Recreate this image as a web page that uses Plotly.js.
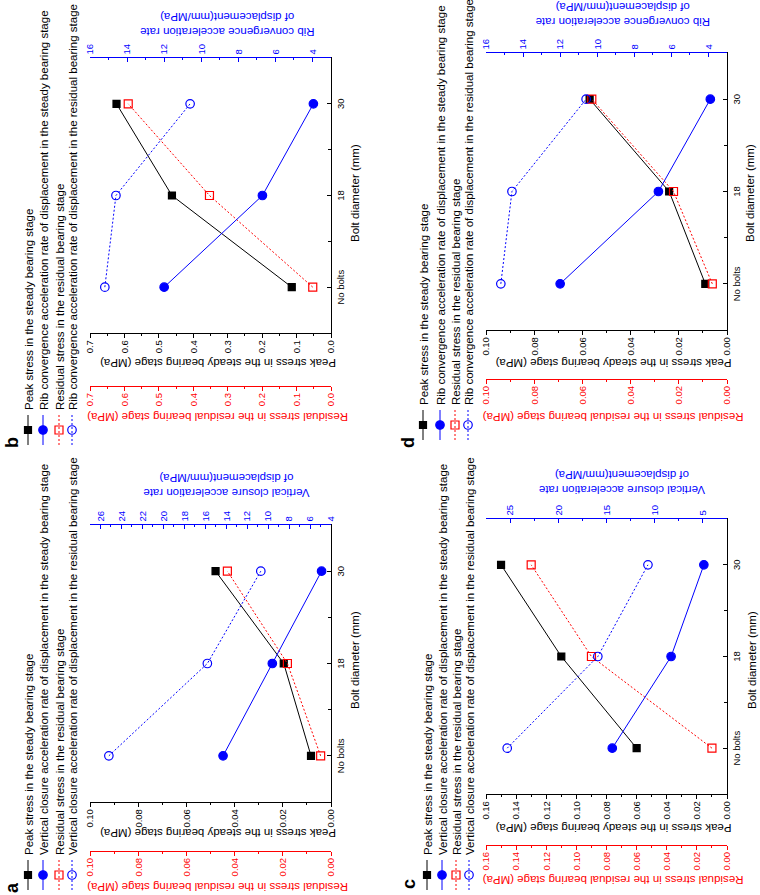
<!DOCTYPE html>
<html>
<head>
<meta charset="utf-8">
<script src="https://cdn.plot.ly/plotly-3.0.1.min.js"></script>
<style>
html, body { margin: 0; padding: 0; overflow: hidden; background: #fff; }
body { width: 760px; height: 895px; position: relative; }
/* the figure is drawn upright (895 x 760) and turned a quarter turn to the left */
#plotArea { position: absolute; left: 0; top: 0; width: 895px; height: 760px;
  transform-origin: 0 0; transform: translateY(895px) rotate(-90deg); }
</style>
</head>
<body>
<div id="plotArea"></div>
<script>
var categories = ["No bolts", "18", "30"];

// a - vertical closure
var peakA = [0.0083, 0.0196, 0.0479];
var residualA = [0.0043, 0.0181, 0.0430];
var rateSteadyA = [14.3, 9.6, 4.9];
var rateResidualA = [25.2, 15.8, 10.7];

// b - rib convergence
var peakB = [0.114, 0.462, 0.623];
var residualB = [0.053, 0.353, 0.589];
var rateSteadyB = [12.0, 6.7, 3.95];
var rateResidualB = [15.2, 14.6, 10.6];

// c - vertical closure
var peakC = [0.060, 0.110, 0.150];
var residualC = [0.010, 0.090, 0.130];
var rateSteadyC = [14.4, 8.3, 4.9];
var rateResidualC = [25.3, 15.9, 10.7];

// d - rib convergence
var peakD = [0.009, 0.024, 0.057];
var residualD = [0.0061, 0.0222, 0.0561];
var rateSteadyD = [12.0, 6.7, 3.9];
var rateResidualD = [15.2, 14.6, 10.6];

var closureNames = [
    "Peak stress in the steady bearing stage",
    "Vertical closure acceleration rate of displacement in the steady bearing stage",
    "Residual stress in the residual bearing stage",
    "Vertical closure acceleration rate of displacement in the residual bearing stage"
];
var ribNames = [
    "Peak stress in the steady bearing stage",
    "Rib convergence acceleration rate of displacement in the steady bearing stage",
    "Residual stress in the residual bearing stage",
    "Rib convergence acceleration rate of displacement in the residual bearing stage"
];
var closureTitle = "Vertical closure acceleration rate<br>of displacement(mm/MPa)";
var ribTitle = "Rib convergence acceleration rate<br>of displacement(mm/MPa)";
var peakTitle = "Peak stress in the steady bearing stage (MPa)";
var residualTitle = "Residual stress in the residual bearing stage (MPa)";
var xTitle = "Bolt diameter (mm)";

var FONT = 'Arial, "Liberation Sans", sans-serif';
var W = 895, H = 760;
function fx(X) { return X / W; }
function fy(Y) { return 1 - Y / H; }

// panel placement in px of the upright figure
var panels = [
    {label: "a", peak: peakA, residual: residualA, steady: rateSteadyA, resid: rateResidualA,
     names: closureNames, rateTitle: closureTitle,
     stressMax: 0.10, stressStep: 0.02, stressFmt: ".2f", rateRange: [4, 27], rateStep: 2,
     x0: 93, x1: 370, top: 90, bot: 331, red: 43,
     blackT: 62, redT: 8, titleY: 218, blueT: 409.5, blueTY: 227, xTX: 235, xTY: 355,
     legX: 39, legY: [28, 43, 59, 72], labX: 8, labY: 0},
    {label: "b", peak: peakB, residual: residualB, steady: rateSteadyB, resid: rateResidualB,
     names: ribNames, rateTitle: ribTitle,
     stressMax: 0.7, stressStep: 0.1, stressFmt: ".1f", rateRange: [3, 16], rateStep: 2,
     x0: 562, x1: 837, top: 90, bot: 331, red: 508,
     blackT: 532, redT: 478, titleY: 218, blueT: 870.5, blueTY: 227, xTX: 701.5, xTY: 355,
     legX: 485, legY: [28, 43, 59, 72], labX: 452, labY: 0},
    {label: "c", peak: peakC, residual: residualC, steady: rateSteadyC, resid: rateResidualC,
     names: closureNames, rateTitle: closureTitle,
     stressMax: 0.16, stressStep: 0.02, stressFmt: ".2f", rateRange: [2.5, 27.5], rateStep: 5,
     x0: 101, x1: 376, top: 486, bot: 727, red: 49,
     blackT: 67, redT: 15, titleY: 613.5, blueT: 412.5, blueTY: 622.5, xTX: 235, xTY: 752,
     legX: 40, legY: [427, 442, 456, 469], labX: 11, labY: 397},
    {label: "d", peak: peakD, residual: residualD, steady: rateSteadyD, resid: rateResidualD,
     names: ribNames, rateTitle: ribTitle,
     stressMax: 0.10, stressStep: 0.02, stressFmt: ".2f", rateRange: [3, 16], rateStep: 2,
     x0: 565, x1: 842, top: 486, bot: 727, red: 515,
     blackT: 532, redT: 478, titleY: 613.5, blueT: 880.5, blueTY: 622.5, xTX: 701.5, xTY: 750,
     legX: 490, legY: [423, 440, 455, 468], labX: 452, labY: 396}
];

var data = [];
var layout = {
    width: W,
    height: H,
    margin: {l: 0, r: 0, t: 0, b: 0, autoexpand: false},
    paper_bgcolor: "white",
    plot_bgcolor: "rgba(0,0,0,0)",
    font: {family: FONT, size: 11.5, color: "black"},
    hovermode: false,
    annotations: []
};

function note(text, X, Y, opts) {
    var a = {text: text, x: fx(X), y: fy(Y), xref: "paper", yref: "paper",
             showarrow: false, xanchor: "center", yanchor: "middle",
             font: {family: FONT, size: 11.5, color: "black"}};
    for (var k in opts) { a[k] = opts[k]; }
    layout.annotations.push(a);
}

panels.forEach(function(p, n) {
    var xName = n === 0 ? "x" : "x" + (n + 1);
    var yBase = 3 * n + 1;
    var yBlack = yBase === 1 ? "y" : "y" + yBase;
    var yRed = "y" + (yBase + 1);
    var yBlue = "y" + (yBase + 2);
    var xs = categories.map(function(c, i) { return i; });
    var between = xs.slice(1).map(function(i) { return i - 0.5; });

    var series = [
        {y: p.peak, axis: yBlack, color: "black", symbol: "square", size: 7, dash: "solid"},
        {y: p.steady, axis: yBlue, color: "blue", symbol: "circle", size: 8.5, dash: "solid"},
        {y: p.residual, axis: yRed, color: "red", symbol: "square-open", size: 8, dash: "2px,2px"},
        {y: p.resid, axis: yBlue, color: "blue", symbol: "circle-open", size: 8.5, dash: "2px,2px"}
    ];
    series.forEach(function(s, k) {
        var num = n * 4 + k + 1;
        var legId = num === 1 ? "legend" : "legend" + num;
        data.push({
            x: xs,
            y: s.y,
            xaxis: xName,
            yaxis: s.axis,
            name: p.names[k],
            legend: legId,
            showlegend: true,
            type: "scatter",
            mode: "lines+markers",
            line: {color: s.color, width: 1, dash: s.dash},
            marker: {symbol: s.symbol, size: s.size, color: s.color, line: {color: s.color, width: 1.2}}
        });
        layout[legId] = {
            x: fx(Math.max(p.legX - 40, 0)), y: fy(p.legY[k]),
            xanchor: "left", yanchor: "middle",
            bgcolor: "rgba(0,0,0,0)", borderwidth: 0, visible: true,
            font: {family: FONT, size: 11.5, color: "black"}
        };
    });

    var dom = [fy(p.bot), fy(p.top)];
    layout["xaxis" + (n ? n + 1 : "")] = {
        domain: [fx(p.x0), fx(p.x1)], anchor: yBlack,
        range: [-0.5, 2.5], tickmode: "array", tickvals: xs, ticktext: categories,
        ticks: "inside", ticklen: 4, tickcolor: "black", tickwidth: 1,
        showline: true, linecolor: "black", linewidth: 1.2,
        showgrid: false, zeroline: false,
        tickfont: {family: FONT, size: 9.5, color: "black"},
        minor: {tickmode: "array", tickvals: between, ticks: "inside", ticklen: 3, tickcolor: "black"}
    };
    var stressAxis = {
        domain: dom, range: [0, p.stressMax], tick0: 0, dtick: p.stressStep, tickformat: p.stressFmt,
        ticks: "outside", ticklen: 4, tickwidth: 1, showline: true,
        showgrid: false, zeroline: false
    };
    layout["yaxis" + (yBase === 1 ? "" : yBase)] = Object.assign({}, stressAxis, {
        anchor: xName, side: "left",
        linecolor: "black", tickcolor: "black", linewidth: 1.2,
        tickfont: {family: FONT, size: 9.5, color: "black"},
        minor: {dtick: p.stressStep / 2, ticks: "outside", ticklen: 2, tickcolor: "black"}
    });
    layout["yaxis" + (yBase + 1)] = Object.assign({}, stressAxis, {
        overlaying: yBlack, anchor: "free", position: fx(p.red), side: "left",
        linecolor: "red", tickcolor: "red", linewidth: 1.5,
        tickfont: {family: FONT, size: 9.5, color: "red"},
        minor: {dtick: p.stressStep / 2, ticks: "outside", ticklen: 2, tickcolor: "red"}
    });
    layout["yaxis" + (yBase + 2)] = {
        domain: dom, overlaying: yBlack, anchor: xName, side: "right",
        range: p.rateRange, tick0: 0, dtick: p.rateStep,
        ticks: "inside", ticklen: 4, tickwidth: 1, tickcolor: "blue",
        showline: true, linecolor: "blue", linewidth: 1.5,
        showgrid: false, zeroline: false,
        tickfont: {family: FONT, size: 9.5, color: "blue"},
        minor: {dtick: p.rateStep / 2, ticks: "inside", ticklen: 2, tickcolor: "blue"}
    };

    note(peakTitle, p.blackT, p.titleY, {textangle: -90});
    note(residualTitle, p.redT, p.titleY, {textangle: -90, font: {family: FONT, size: 11.5, color: "red"}});
    note(p.rateTitle, p.blueT, p.blueTY, {textangle: -90, font: {family: FONT, size: 11.5, color: "blue"}});
    note(xTitle, p.xTX, p.xTY, {});
    note("<b>" + p.label + "</b>", p.labX, p.labY, {yanchor: "top", font: {family: FONT, size: 18, color: "black"}});
});

Plotly.newPlot("plotArea", data, layout, {staticPlot: true, displayModeBar: false});
</script>
</body>
</html>
